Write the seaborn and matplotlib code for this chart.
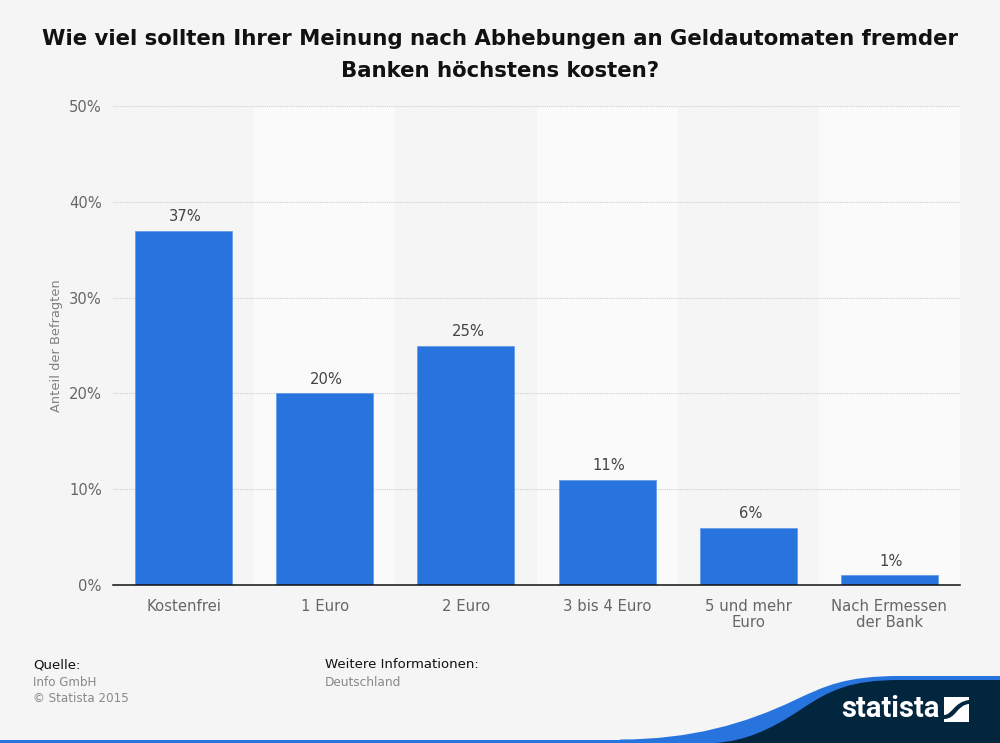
import numpy as np
import pandas as pd
import seaborn as sns
import matplotlib.pyplot as plt
from matplotlib.patches import PathPatch, Rectangle
from matplotlib.path import Path

categories = ['Kostenfrei', '1 Euro', '2 Euro', '3 bis 4 Euro', '5 und mehr\nEuro', 'Nach Ermessen\nder Bank']
values = [37, 20, 25, 11, 6, 1]
y_ticks = [0, 10, 20, 30, 40, 50]

BG = '#f5f5f5'
BLUE = '#2874df'
NAVY = '#03263f'

sns.set_theme(style='white', rc={'font.family': 'DejaVu Sans'})

W, H = 1000, 743
fig = plt.figure(figsize=(10, 7.43), dpi=100, facecolor=BG)
ax = fig.add_axes([113 / W, 1 - 585 / H, 847 / W, 479 / H], facecolor=BG)

df = pd.DataFrame({'Kategorie': categories, 'Anteil': values})

# lighter bands behind every second category
for i in range(1, len(categories), 2):
    ax.axvspan(i - 0.5, i + 0.5, color='#fafafa', lw=0, zorder=0)

sns.barplot(data=df, x='Kategorie', y='Anteil', color=BLUE, saturation=1, width=0.687,
            ax=ax, zorder=3, edgecolor='#5f97e6', linewidth=0.5)

ax.set_xlim(-0.5, len(categories) - 0.5)
ax.set_ylim(0, 50)
ax.set_yticks(y_ticks)
ax.set_yticklabels([f'{t}%' for t in y_ticks], fontsize=10.6, color='#666666')
ax.yaxis.grid(True, color='#cfcfcf', linestyle=(0, (1, 1)), linewidth=0.8)
ax.set_axisbelow(True)
ax.tick_params(axis='x', length=0, pad=10, labelsize=10.7, labelcolor='#666666')
ax.tick_params(axis='y', length=0, pad=8)
for lab in ax.get_xticklabels():
    lab.set_linespacing(1.12)
ax.set_xlabel('')
ax.set_ylabel('Anteil der Befragten', fontsize=9.4, color='#808080', labelpad=4)
for s in ['top', 'right', 'left']:
    ax.spines[s].set_visible(False)
ax.spines['bottom'].set_color('#111111')
ax.spines['bottom'].set_linewidth(1.1)
ax.spines['bottom'].set_zorder(5)

for i, v in enumerate(values):
    ax.annotate(f'{v}%', (i, v), xytext=(1.5, 4.5), textcoords='offset points',
                ha='center', va='bottom', fontsize=10.6, color='#444444', zorder=6)

fig.text(500 / W, 1 - 39 / H, 'Wie viel sollten Ihrer Meinung nach Abhebungen an Geldautomaten fremder',
         ha='center', va='center', fontsize=15.3, fontweight='bold', color='#111111')
fig.text(500 / W, 1 - 71 / H, 'Banken höchstens kosten?',
         ha='center', va='center', fontsize=15.3, fontweight='bold', color='#111111')

# footer
fig.text(33 / W, 1 - 665 / H, 'Quelle:', fontsize=9.5, color='#111111', va='center')
fig.text(33 / W, 1 - 682 / H, 'Info GmbH', fontsize=8.6, color='#888888', va='center')
fig.text(33 / W, 1 - 698 / H, '© Statista 2015', fontsize=8.6, color='#888888', va='center')
fig.text(325 / W, 1 - 665 / H, 'Weitere Informationen:', fontsize=9.5, color='#111111', va='center')
fig.text(325 / W, 1 - 682 / H, 'Deutschland', fontsize=8.7, color='#888888', va='center')

# logo banner, drawn in pixel coordinates
lay = fig.add_axes([0, 0, 1, 1], facecolor='none', zorder=10)
lay.set_xlim(0, W)
lay.set_ylim(H, 0)
lay.axis('off')
lay.add_patch(Rectangle((0, 739.5), 720, 3.5, color=BLUE, lw=0))
blue = Path([(620, 739.5), (690, 739.5), (745, 724), (795, 700), (825, 686), (845, 676), (900, 676),
             (1000, 676), (1000, 743), (620, 743), (620, 739.5)],
            [1, 4, 4, 4, 4, 4, 4, 2, 2, 2, 79])
lay.add_patch(PathPatch(blue, fc=BLUE, lw=0))
navy = Path([(715, 743), (745, 741), (770, 730), (800, 710), (830, 690), (850, 680), (900, 680),
             (1000, 680), (1000, 743), (715, 743)],
            [1, 4, 4, 4, 4, 4, 4, 2, 2, 79])
lay.add_patch(PathPatch(navy, fc=NAVY, lw=0))
lay.text(890, 709, 'statista', ha='center', va='center', color='white', fontsize=21,
         fontweight='bold', family='Roboto')
lay.add_patch(Rectangle((944, 697), 25, 25, color='white', lw=0))
mark = Path([(944, 715), (952, 715), (954, 702), (969, 700), (969, 704), (957, 705),
             (956, 719), (944, 719), (944, 715)],
            [1, 4, 4, 4, 2, 4, 4, 4, 79])
lay.add_patch(PathPatch(mark, fc=NAVY, lw=0))

fig.savefig('out.png', dpi=100, facecolor=BG)
